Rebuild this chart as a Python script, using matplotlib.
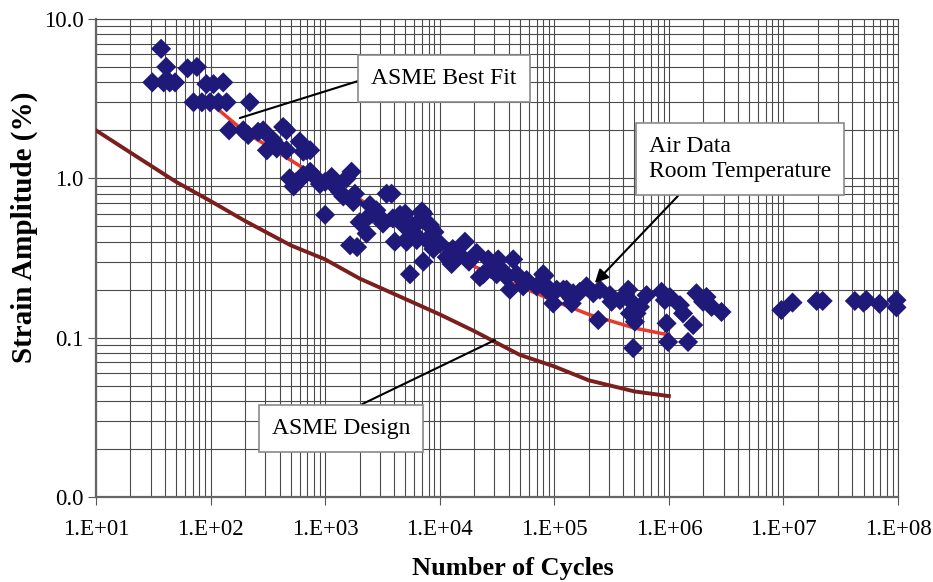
import matplotlib.pyplot as plt
from matplotlib.ticker import FixedLocator, FixedFormatter, LogLocator, NullFormatter

plt.rcParams['font.family'] = ['Liberation Serif', 'DejaVu Serif']

# air data, room temperature (cycles, strain amplitude %)
cycles = [37, 41, 63, 76, 31, 39, 44, 49, 92, 106, 129,
          71, 84, 99, 117, 138, 220, 145, 193, 213, 260, 288, 430, 460,
          310, 365, 378, 460, 600, 690, 350, 740, 645,
          490, 530, 645, 740, 840, 1000, 1140, 1260, 1540, 1700, 1820, 1440, 1760,
          1000, 1650, 1900, 2460, 2800, 2300, 2000, 2300, 3440, 3800, 3200, 3900,
          4500, 4800, 6300, 7200, 8200, 4060, 5140, 6300, 8200, 10000,
          5000, 7000, 5500, 8200, 5100, 7700, 8800, 13000, 16600, 7200, 12700, 11500, 5500,
          21000, 26500, 32400, 43800, 24000, 22400, 31400, 38400, 46900, 57300, 80000,
          41000, 53500, 70000, 91500, 97800, 120000, 146000, 142000,
          82000, 85700, 105000, 128000, 142000, 167000, 191000, 219000, 250000,
          306000, 316000, 374000, 442000, 488000, 522000, 457000, 559000, 505000,
          639000, 863000, 922000, 1.02e6, 1.25e6, 1.33e6, 1.74e6, 1.99e6, 2.13e6,
          2.36e6, 2.88e6, 9.55e5, 1.63e6, 2.42e5, 9.86e5, 1.47e6, 4.88e5,
          9.6e6, 1.2e7, 1.95e7, 2.2e7, 4.2e7, 5.0e7, 5.3e7, 6.9e7, 9.7e7, 9.7e7,
          560, 620, 900, 1200, 1350, 2600, 3000, 6000, 9000, 15000, 18000, 28000, 36000]
strain = [6.5, 5.0, 4.9, 5.0, 4.0, 4.0, 4.0, 4.0, 3.9, 3.9, 4.0,
          3.0, 3.0, 3.0, 3.0, 3.0, 3.0, 2.0, 2.0, 1.87, 1.96, 2.0, 2.1, 2.0,
          1.5, 1.66, 1.54, 1.5, 1.7, 1.5, 1.74, 1.5, 1.47,
          1.0, 0.89, 1.05, 1.1, 1.0, 0.95, 1.02, 0.89, 1.0, 1.1, 0.8, 0.77, 0.71,
          0.59, 0.38, 0.37, 0.68, 0.63, 0.56, 0.53, 0.45, 0.8, 0.8, 0.52, 0.56,
          0.59, 0.51, 0.52, 0.6, 0.5, 0.4, 0.4, 0.41, 0.42, 0.39,
          0.6, 0.62, 0.52, 0.51, 0.41, 0.41, 0.36, 0.36, 0.4, 0.3, 0.29, 0.32, 0.25,
          0.34, 0.31, 0.31, 0.31, 0.25, 0.24, 0.25, 0.24, 0.25, 0.23, 0.25,
          0.2, 0.21, 0.21, 0.2, 0.164, 0.2, 0.19, 0.164,
          0.245, 0.2, 0.2, 0.2, 0.176, 0.194, 0.21, 0.19, 0.2,
          0.185, 0.168, 0.172, 0.2, 0.164, 0.142, 0.142, 0.156, 0.126,
          0.185, 0.194, 0.172, 0.18, 0.16, 0.142, 0.19, 0.168, 0.18,
          0.156, 0.145, 0.123, 0.12, 0.129, 0.094, 0.094, 0.086,
          0.149, 0.166, 0.17, 0.17, 0.17, 0.166, 0.172, 0.163, 0.172, 0.155,
          0.95, 1.0, 0.92, 0.9, 0.82, 0.6, 0.57, 0.45, 0.46, 0.33, 0.3, 0.27, 0.26]

# ASME best fit curve
fit_cycles = [110, 200, 500, 1000, 2000, 5000, 1e4, 2e4, 5e4, 1e5, 2e5, 5e5, 1e6]
fit_strain = [2.8, 1.95, 1.3, 0.95, 0.74, 0.48, 0.36, 0.28, 0.21, 0.17, 0.14, 0.115, 0.104]

# ASME design curve
design_cycles = [10, 20, 50, 100, 200, 500, 1000, 2000, 5000, 1e4, 2e4, 5e4, 1e5, 2e5, 5e5, 1e6]
design_strain = [2.0, 1.45, 0.95, 0.72, 0.54, 0.38, 0.31, 0.235, 0.175, 0.14, 0.11, 0.078,
                 0.066, 0.054, 0.046, 0.043]

ytick_vals = [0.01, 0.1, 1, 10]
ytick_labels = ['0.0', '0.1', '1.0', '10.0']
xtick_vals = [1e1, 1e2, 1e3, 1e4, 1e5, 1e6, 1e7, 1e8]
xtick_labels = ['1.E+01', '1.E+02', '1.E+03', '1.E+04', '1.E+05', '1.E+06', '1.E+07', '1.E+08']

fig = plt.figure(figsize=(9.33, 5.82), dpi=100)
ax = fig.add_axes([0.1029, 0.146, 0.8596, 0.8214])

ax.set_xscale('log')
ax.set_yscale('log')
ax.set_xlim(1e1, 1e8)
ax.set_ylim(0.01, 10)

ax.plot(design_cycles, design_strain, color='#7a1e1e', lw=2.8, zorder=3)
ax.plot(fit_cycles, fit_strain, color='#e8392a', lw=2.5, zorder=3)
ax.scatter(cycles, strain, marker='D', s=105, color='#1f1a7a', edgecolors='none',
           zorder=4, clip_on=False)

ax.xaxis.set_major_locator(FixedLocator(xtick_vals))
ax.xaxis.set_major_formatter(FixedFormatter(xtick_labels))
ax.yaxis.set_major_locator(FixedLocator(ytick_vals))
ax.yaxis.set_major_formatter(FixedFormatter(ytick_labels))
ax.xaxis.set_minor_locator(LogLocator(base=10, subs=range(2, 10), numticks=20))
ax.yaxis.set_minor_locator(LogLocator(base=10, subs=range(2, 10), numticks=20))
ax.xaxis.set_minor_formatter(NullFormatter())
ax.yaxis.set_minor_formatter(NullFormatter())

ax.grid(True, which='both', color='#4a4a4a', lw=0.8, zorder=0)
ax.set_axisbelow(True)
ax.tick_params(which='minor', length=0)
ax.tick_params(axis='x', which='major', length=6, pad=10, labelsize=16.5, color='#555555')
ax.tick_params(axis='y', which='major', length=6, pad=3, labelsize=16.5, color='#555555')
for side in ['left', 'bottom']:
    ax.spines[side].set_color('#666666')
    ax.spines[side].set_linewidth(1.6)
for side in ['top', 'right']:
    ax.spines[side].set_color('#4a4a4a')
    ax.spines[side].set_linewidth(0.8)

ax.set_xlabel('Number of Cycles', fontsize=19, fontweight='bold', labelpad=12)
ax.set_ylabel('Strain Amplitude (%)', fontsize=21, fontweight='bold', labelpad=4)
ax.xaxis.label.set_x(0.52)
ax.yaxis.label.set_y(0.565)

box = dict(boxstyle='square,pad=0.55', fc='white', ec='#8a8a8a', lw=1.2)
ax.annotate('ASME Best Fit', xy=(180, 2.39), xycoords='data',
            xytext=(0.434, 0.8745), textcoords='axes fraction',
            ha='center', va='center', fontsize=17, bbox=box, zorder=6,
            arrowprops=dict(arrowstyle='-', color='black', lw=1.5,
                            relpos=(0.0, 0.6), shrinkA=0, shrinkB=0))
ax.annotate('Air Data\nRoom Temperature', xy=(2.26e5, 0.22), xycoords='data',
            xytext=(0.803, 0.707), textcoords='axes fraction',
            ha='center', va='center', multialignment='left', fontsize=17,
            linespacing=1.3, bbox=box, zorder=6,
            arrowprops=dict(arrowstyle='-|>', color='black', lw=1.5,
                            mutation_scale=20, relpos=(0.23, 0.0),
                            shrinkA=0, shrinkB=0))
ax.annotate('ASME Design', xy=(3.03e4, 0.0966), xycoords='data',
            xytext=(0.3055, 0.144), textcoords='axes fraction',
            ha='center', va='center', fontsize=17, bbox=box, zorder=6,
            arrowprops=dict(arrowstyle='-', color='black', lw=1.5,
                            relpos=(0.45, 1.0), shrinkA=0, shrinkB=0))

fig.savefig('out.png', dpi=100)
